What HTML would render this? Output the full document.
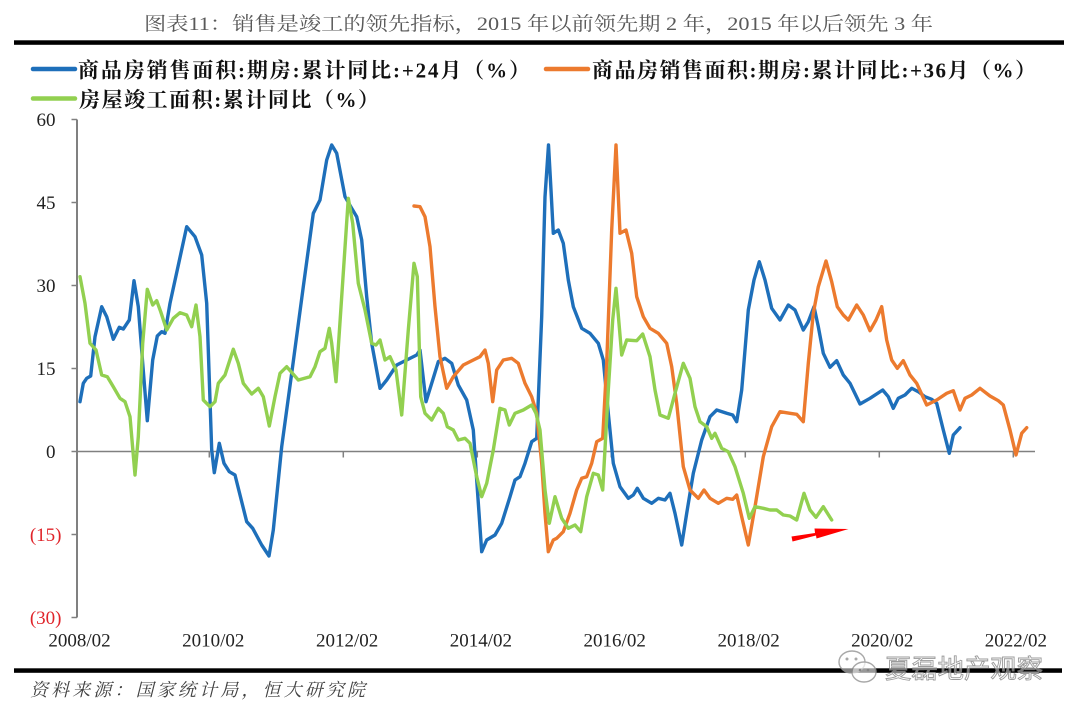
<!DOCTYPE html>
<html>
<head>
<meta charset="utf-8">
<style>
  html, body { margin:0; padding:0; background:#fff; }
  svg { display:block; }
  .serif { font-family: "Liberation Serif", "Noto Serif CJK SC", serif; }
</style>
</head>
<body>
<svg width="1080" height="715" viewBox="0 0 1080 715" xmlns="http://www.w3.org/2000/svg">
  <rect x="0" y="0" width="1080" height="715" fill="#fff"/>

  <!-- Title -->
  <text class="serif" x="144" y="30" font-size="19" fill="#595959" textLength="789" lengthAdjust="spacingAndGlyphs">图表11：销售是竣工的领先指标，2015 年以前领先期 2 年，2015 年以后领先 3 年</text>
  <rect x="14" y="40.3" width="1050" height="4.5" fill="#000"/>

  <!-- Legend -->
  <line x1="33" y1="69" x2="75" y2="69" stroke="#1e6fba" stroke-width="4.5" stroke-linecap="round"/>
  <text class="serif" x="78" y="77.5" font-size="21" font-weight="bold" fill="#111" textLength="452" lengthAdjust="spacing">商品房销售面积:期房:累计同比:+24月（%）</text>
  <line x1="546" y1="69" x2="588" y2="69" stroke="#ec7a2e" stroke-width="4.5" stroke-linecap="round"/>
  <text class="serif" x="592" y="77.5" font-size="21" font-weight="bold" fill="#111" textLength="444" lengthAdjust="spacing">商品房销售面积:期房:累计同比:+36月（%）</text>
  <line x1="33" y1="98.5" x2="75" y2="98.5" stroke="#92d050" stroke-width="4.5" stroke-linecap="round"/>
  <text class="serif" x="79" y="107" font-size="21" font-weight="bold" fill="#111" textLength="300" lengthAdjust="spacing">房屋竣工面积:累计同比（%）</text>

  <!-- Y axis -->
  <line x1="77" y1="119.5" x2="77" y2="617.5" stroke="#808080" stroke-width="2"/>
  <g stroke="#808080" stroke-width="1.5">
    <line x1="71.5" y1="119.5" x2="77" y2="119.5"/>
    <line x1="71.5" y1="202.5" x2="77" y2="202.5"/>
    <line x1="71.5" y1="285.5" x2="77" y2="285.5"/>
    <line x1="71.5" y1="368.5" x2="77" y2="368.5"/>
    <line x1="71.5" y1="451.5" x2="77" y2="451.5"/>
    <line x1="71.5" y1="534.5" x2="77" y2="534.5"/>
    <line x1="71.5" y1="617.5" x2="77" y2="617.5"/>
  </g>
  <g class="serif" font-size="19" text-anchor="end">
    <text x="55.5" y="126" fill="#222">60</text>
    <text x="55.5" y="209" fill="#222">45</text>
    <text x="55.5" y="292" fill="#222">30</text>
    <text x="55.5" y="375" fill="#222">15</text>
    <text x="55.5" y="458" fill="#222">0</text>
    <text x="61.5" y="541" fill="#e0242a">(15)</text>
    <text x="61.5" y="624" fill="#e0242a">(30)</text>
  </g>

  <!-- Zero line and ticks -->
  <line x1="77" y1="451.5" x2="1035" y2="451.5" stroke="#808080" stroke-width="1.6"/>
  <g stroke="#808080" stroke-width="1.5">
    <line x1="209.3" y1="451.5" x2="209.3" y2="457.5"/>
    <line x1="343.3" y1="451.5" x2="343.3" y2="457.5"/>
    <line x1="477.3" y1="451.5" x2="477.3" y2="457.5"/>
    <line x1="611.3" y1="451.5" x2="611.3" y2="457.5"/>
    <line x1="745.3" y1="451.5" x2="745.3" y2="457.5"/>
    <line x1="879.3" y1="451.5" x2="879.3" y2="457.5"/>
    <line x1="1013.3" y1="451.5" x2="1013.3" y2="457.5"/>
  </g>

  <!-- X labels -->
  <g class="serif" font-size="19" fill="#222" text-anchor="middle">
    <text x="79.5" y="646.5">2008/02</text>
    <text x="213.3" y="646.5">2010/02</text>
    <text x="347.1" y="646.5">2012/02</text>
    <text x="480.9" y="646.5">2014/02</text>
    <text x="614.7" y="646.5">2016/02</text>
    <text x="748.6" y="646.5">2018/02</text>
    <text x="882.3" y="646.5">2020/02</text>
    <text x="1015.9" y="646.5">2022/02</text>
  </g>

  <!-- Blue series -->
  <polyline fill="none" stroke="#1e6fba" stroke-width="3.4" stroke-linejoin="round" stroke-linecap="round" points="
80,401.7 83.3,383.3 86.7,378.3 90.7,376 95,336.7 101.7,306.7 106.7,316.7 113.3,339.3 119.3,327.3 123.3,329 129.3,320 134,280.7 138.3,306.7 142.7,363.3 147.3,420.7 152.7,360 157.3,336 161.7,331.7 165,333.3 170,303.3 186.7,226.7 195,236.7 201.7,255 206.7,303.3 211.7,450 214.3,472.7 219.3,443.3 224,463.3 229.3,471.7 235,475 246.7,521.7 252.7,528.3 261.7,545 269,556 273.3,530 281.7,446.7 291.7,373.3 303.3,286.7 313.3,213.3 320,200 326.7,160 331.7,145 336.7,153.3 345,196.7 351.7,208.3 356.7,216.7 361.7,240 366.7,296.7 371.7,343.3 380,388.3 386.7,380 396.7,365 406.7,360 416.7,355 420,350 426,401.7 431.7,383.3 438.3,361.7 445,358.3 451.7,363.3 458.3,385 466.7,400 473.3,430 476.7,480 481.7,551.7 486.7,540 495,535 501.7,523.3 510,496.7 515,480 520,476.7 525,463.3 531.7,441.7 536.7,438.3 541.7,316.7 545,196.7 548.5,145 551,190 553.3,233.3 558.3,230 563.3,243.3 568.3,280 573.3,306.7 581.7,328.3 590,333.3 598.3,343.3 603.3,360 608.3,413.3 613.3,463.3 620,486.7 628.3,498.3 633.3,495 637.3,488.3 643.3,498.3 651.7,503.3 658.3,498.3 665,500 670,493.3 675,513.3 681.7,545 686.7,513.3 693.3,473.3 701.7,440 710,416.7 716.7,410 726.7,413.3 732.7,415 736.7,421.7 741.7,390 748.3,310 754,280 759.3,261.7 765,280 771.7,308.3 780,320 788.3,305 795,310 803.3,330 808.3,321.7 814,306.7 818.3,326.7 823.3,353.3 830,367.3 836.7,360.7 843.3,375 850,383.3 860,404 870,398.3 882.7,390 888.3,396.7 893.3,408.3 898.3,398.3 905,395 911.7,388.3 918.3,391.7 925,396.7 931.7,399.3 936.7,403.3 943.3,430 949.3,453.3 953.3,435 960,427.7"/>

  <!-- Orange series -->
  <polyline fill="none" stroke="#ec7a2e" stroke-width="3.4" stroke-linejoin="round" stroke-linecap="round" points="
414,206 420,206.7 425,216.7 430,246.7 435,306.7 440,356.7 446.7,388.3 453.3,376.7 463.3,365 473.3,360 480,356.7 485,350 488.3,363.3 492.7,401.7 496.7,370 503.3,360 511.7,358.3 518.3,363.3 525,383.3 531.7,396.7 536.7,413.3 541.7,463.3 545,513.3 548.3,551.7 553.3,540 556.7,538.3 563.3,531.7 570,513.3 576.7,490 581.7,478.3 586.7,476.7 591.7,463.3 596.7,441.7 602.7,438.3 606.7,363.3 611.7,230 616,145 620,233.3 626,230 631.7,253.3 636.7,296.7 643.3,316.7 650,328.3 658.3,333.3 666.7,343.3 671.7,366.7 676.7,403.3 683.3,466.7 690,490 698.3,498.3 704,490 710,498.3 718.3,503.3 726.7,498.3 732.7,499.3 736.7,495 741.7,516.7 748.3,545 755,506.7 763.3,456.7 771.7,426.7 780,411.7 790,413.3 796.7,414.3 803.3,421.7 808.3,363.3 813.3,313.3 818.3,286.7 826,261 831.7,281.7 837.3,306.7 843.3,315 848.3,320 856.7,305 863.3,315 870,330.7 876,320 881.7,306.7 886.7,340 891.7,360 897.3,368.3 903.3,360.7 910,375 916.7,383.3 926.7,405 936.7,400 946.7,393.3 953.3,390.7 960,410 965,398.3 971.7,395 980,388.3 990,396 998.3,400.7 1003.3,405 1010,430 1016,455 1021.7,433.3 1026.7,427.7"/>

  <!-- Green series -->
  <polyline fill="none" stroke="#92d050" stroke-width="3.4" stroke-linejoin="round" stroke-linecap="round" points="
80,276.7 85,303.3 90,343.3 96,350 101.7,375 107.3,376.7 113.3,386.7 120,398.3 125,401.7 130,416.7 135,475 138.3,436.7 142.7,343.3 147.3,289.3 152.7,305 156.7,300.7 160.7,311.7 166.7,330 173.3,318.3 180,312.7 186.7,315 191.7,326.7 196,305 200,336.7 203.3,400 210,406.7 215,401.7 218.3,383.3 225,375 233.3,349.3 238.3,363.3 243.3,383.3 251.7,394 258.3,388.3 263.3,396.7 269.3,426 275,396.7 280,373.3 286.7,366.7 298.3,380 310,376.7 315,366.7 320,351.7 325,348.3 329.3,328.3 331.7,343.3 336,381.7 341.7,296.7 348.3,198.3 352.7,223.3 358.3,283.3 365,310 371.7,343.3 376,345 380,340 385,360 390,356.7 396,370 401.7,415 408.3,330 414,263.3 417.3,276.7 420.7,396.7 425,413.3 431.7,420 438.3,408.3 443.3,413.3 447.3,426.7 453.3,430 458.3,440 465,438.3 470,443.3 476.7,476.7 481.7,496.7 486.7,483.3 493.3,450 500,408.3 505,410 509.3,425 515,413.3 523.3,410 531.7,405 536,413.3 540,430 545,490 549.3,523.3 555,496.7 561.7,518.3 568.3,528.3 575,525 580.7,531.7 586.7,496.7 593.3,473.3 598.3,475 602.7,490 608.3,390 612.7,320 616,288.3 621.7,355 626.7,340 636.7,340.7 642.7,334 650,356.7 655,390 660,415 668.3,418.3 675,393.3 683.3,363.3 690,378.3 695,406.7 700,421.7 706.7,426.7 711.7,438.3 715,433.3 721.7,448.3 728.3,451.7 735,466.7 743.3,493.3 749.3,518.3 755,506.7 763.3,508.3 770,510 776.7,510 783.3,515 790,516 796.7,520 804,493.3 810,510 816,517.3 823.3,506.7 831.7,520"/>

  <!-- Red arrow -->
  <polygon points="791.5,536.5 815,533 814.5,528.5 848.5,529 816.5,538.5 816,535.5 792.5,541.5" fill="#ff0000"/>

  <!-- Bottom rule -->
  <rect x="14" y="668.3" width="1048" height="4.5" fill="#000"/>

  <!-- Watermark -->
  <g opacity="0.85">
    <ellipse cx="852" cy="662" rx="13" ry="11" fill="rgba(255,255,255,0.6)" stroke="#9a9a9a" stroke-width="1.4"/>
    <ellipse cx="864" cy="672" rx="12" ry="10" fill="rgba(255,255,255,0.7)" stroke="#9a9a9a" stroke-width="1.4"/>
    <circle cx="847" cy="659" r="1.5" fill="#999"/>
    <circle cx="856" cy="659" r="1.5" fill="#999"/>
    <circle cx="860" cy="670" r="1.3" fill="#999"/>
    <circle cx="868" cy="670" r="1.3" fill="#999"/>
    <text x="885" y="678" font-family="'Noto Sans CJK SC', 'WenQuanYi Zen Hei', sans-serif" font-size="26" fill="rgba(255,255,255,0.55)" stroke="#8a8a8a" stroke-width="0.9" textLength="158" lengthAdjust="spacingAndGlyphs">夏磊地产观察</text>
  </g>

  <!-- Source -->
  <text class="serif" x="30" y="696" font-size="18" font-style="italic" fill="#404040" textLength="335" lengthAdjust="spacing">资料来源：国家统计局，恒大研究院</text>
</svg>
</body>
</html>
